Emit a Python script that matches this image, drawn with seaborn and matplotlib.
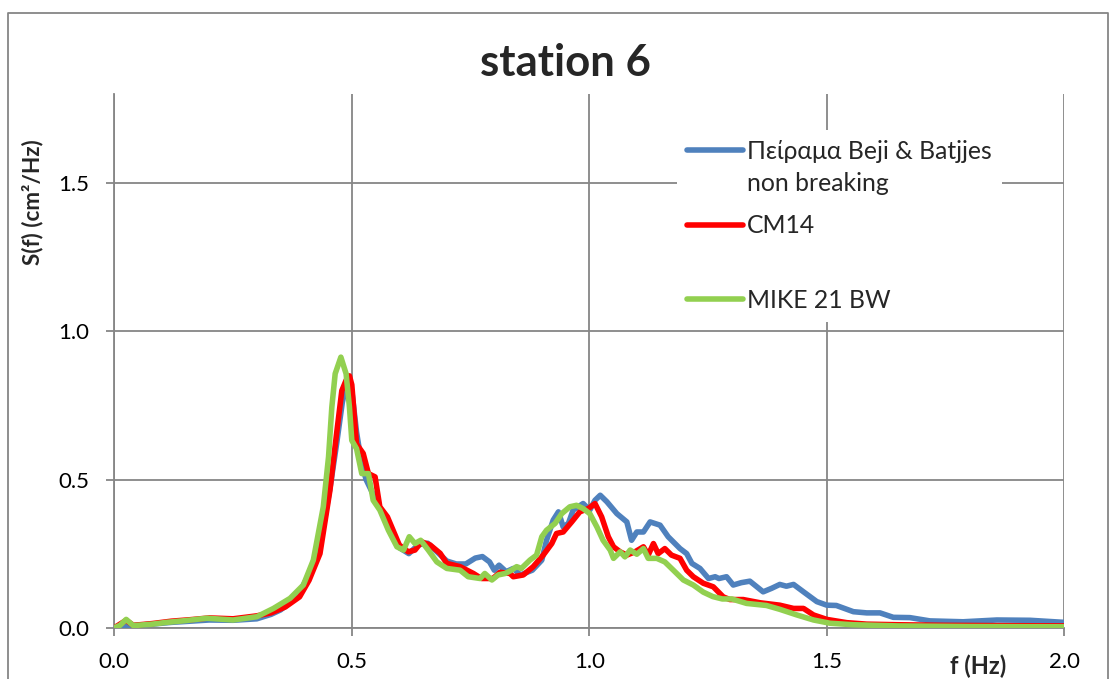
import numpy as np
import pandas as pd
import matplotlib
matplotlib.use("Agg")
import matplotlib.pyplot as plt
from matplotlib.lines import Line2D
import seaborn as sns

# ---------------- data ----------------
series_names = ["Πείραμα Beji & Batjjes non breaking", "CM14", "MIKE 21 BW"]
legend_first_line = "Πείραμα Beji & Batjjes"
legend_second_line = "non breaking"

f_exp = [0.00, 0.02, 0.04, 0.08, 0.12, 0.16, 0.20, 0.25, 0.30, 0.33, 0.35, 0.37, 0.39, 0.41, 0.425,
         0.44, 0.455, 0.468, 0.48, 0.49, 0.50, 0.51, 0.52, 0.53, 0.545, 0.56, 0.575, 0.59, 0.60, 0.62,
         0.64, 0.66, 0.68, 0.70, 0.72, 0.74, 0.76, 0.775, 0.79, 0.80, 0.81, 0.825, 0.84, 0.855, 0.88,
         0.90, 0.91, 0.924, 0.935, 0.945, 0.956, 0.966, 0.987, 1.001, 1.012, 1.023, 1.037, 1.058, 1.079, 1.089,
         1.10, 1.114, 1.128, 1.149, 1.166, 1.191, 1.205, 1.216, 1.233, 1.251, 1.265, 1.273, 1.289, 1.303, 1.32,
         1.338, 1.366, 1.384, 1.401, 1.415, 1.43, 1.451, 1.479, 1.50, 1.52, 1.556, 1.584, 1.612, 1.64, 1.675,
         1.717, 1.787, 1.858, 1.928, 2.0]
s_exp = [0.0, 0.003, 0.007, 0.012, 0.018, 0.022, 0.026, 0.025, 0.03, 0.045, 0.06, 0.085, 0.12, 0.18, 0.25,
         0.34, 0.48, 0.62, 0.76, 0.83, 0.80, 0.66, 0.56, 0.50, 0.45, 0.40, 0.35, 0.30, 0.27, 0.25,
         0.28, 0.285, 0.255, 0.225, 0.215, 0.215, 0.235, 0.24, 0.222, 0.194, 0.211, 0.189, 0.20, 0.178, 0.194,
         0.228, 0.295, 0.363, 0.391, 0.34, 0.352, 0.397, 0.419, 0.397, 0.43, 0.447, 0.425, 0.385, 0.357, 0.295,
         0.323, 0.323, 0.357, 0.346, 0.307, 0.267, 0.25, 0.217, 0.2, 0.166, 0.172, 0.166, 0.172, 0.144, 0.152,
         0.157, 0.121, 0.133, 0.146, 0.14, 0.146, 0.121, 0.088, 0.076, 0.075, 0.054, 0.05, 0.05, 0.035, 0.034,
         0.023, 0.02, 0.026, 0.025, 0.018]

f_cm = [0.00, 0.025, 0.04, 0.08, 0.12, 0.16, 0.20, 0.25, 0.30, 0.33, 0.36, 0.39, 0.41, 0.433, 0.454,
        0.468, 0.479, 0.488, 0.495, 0.50, 0.505, 0.51, 0.524, 0.535, 0.549, 0.559, 0.575, 0.60, 0.619, 0.633,
        0.647, 0.665, 0.686, 0.70, 0.728, 0.756, 0.773, 0.797, 0.812, 0.833, 0.84, 0.861, 0.882, 0.903, 0.921,
        0.931, 0.945, 0.963, 0.98, 0.998, 1.012, 1.026, 1.04, 1.051, 1.065, 1.079, 1.096, 1.114, 1.124, 1.135,
        1.145, 1.159, 1.173, 1.191, 1.205, 1.219, 1.24, 1.261, 1.282, 1.296, 1.324, 1.36, 1.401, 1.43, 1.451,
        1.472, 1.50, 1.542, 1.584, 1.648, 1.75, 1.85, 2.0]
s_cm = [0.0, 0.025, 0.008, 0.014, 0.022, 0.027, 0.033, 0.03, 0.04, 0.05, 0.07, 0.104, 0.16, 0.25, 0.464,
        0.655, 0.80, 0.835, 0.85, 0.82, 0.72, 0.62, 0.588, 0.52, 0.509, 0.408, 0.374, 0.279, 0.256, 0.262,
        0.29, 0.279, 0.251, 0.217, 0.206, 0.183, 0.166, 0.166, 0.187, 0.183, 0.172, 0.178, 0.206, 0.245, 0.284,
        0.318, 0.323, 0.357, 0.391, 0.402, 0.419, 0.374, 0.307, 0.273, 0.256, 0.245, 0.256, 0.273, 0.245, 0.284,
        0.25, 0.267, 0.245, 0.234, 0.194, 0.172, 0.15, 0.138, 0.104, 0.095, 0.095, 0.084, 0.076, 0.065, 0.065,
        0.043, 0.028, 0.017, 0.012, 0.01, 0.008, 0.007, 0.006]

f_mk = [0.00, 0.012, 0.025, 0.04, 0.08, 0.11, 0.15, 0.195, 0.25, 0.30, 0.335, 0.37, 0.398, 0.419, 0.44,
        0.451, 0.458, 0.465, 0.477, 0.488, 0.495, 0.50, 0.51, 0.521, 0.535, 0.545, 0.559, 0.577, 0.595, 0.609,
        0.621, 0.633, 0.645, 0.661, 0.679, 0.70, 0.728, 0.745, 0.77, 0.78, 0.795, 0.808, 0.823, 0.836, 0.847,
        0.857, 0.875, 0.889, 0.90, 0.91, 0.928, 0.942, 0.959, 0.973, 0.987, 1.001, 1.016, 1.029, 1.044, 1.051,
        1.065, 1.075, 1.086, 1.10, 1.114, 1.124, 1.142, 1.159, 1.177, 1.198, 1.219, 1.24, 1.26, 1.28, 1.30,
        1.331, 1.373, 1.401, 1.437, 1.472, 1.507, 1.556, 1.65, 1.8, 2.0]
s_mk = [0.0, 0.008, 0.028, 0.007, 0.012, 0.018, 0.024, 0.032, 0.026, 0.037, 0.065, 0.099, 0.144, 0.228, 0.408,
        0.576, 0.745, 0.857, 0.913, 0.857, 0.745, 0.632, 0.604, 0.52, 0.52, 0.43, 0.397, 0.329, 0.273, 0.262,
        0.307, 0.284, 0.295, 0.262, 0.222, 0.20, 0.194, 0.172, 0.166, 0.183, 0.161, 0.178, 0.183, 0.194, 0.206,
        0.20, 0.228, 0.245, 0.307, 0.329, 0.352, 0.385, 0.408, 0.413, 0.402, 0.385, 0.34, 0.295, 0.262, 0.234,
        0.256, 0.239, 0.262, 0.248, 0.267, 0.234, 0.234, 0.222, 0.194, 0.161, 0.144, 0.12, 0.105, 0.097, 0.097,
        0.082, 0.075, 0.062, 0.043, 0.026, 0.015, 0.01, 0.006, 0.004, 0.003]

x_ticks = [0.0, 0.5, 1.0, 1.5, 2.0]
y_ticks = [0.0, 0.5, 1.0, 1.5]
colors = ["#4F81BD", "#FF0000", "#92D050"]

# ---------------- build long table ----------------
df = pd.concat([
    pd.DataFrame({"f": f_exp, "S": s_exp, "series": series_names[0]}),
    pd.DataFrame({"f": f_cm, "S": s_cm, "series": series_names[1]}),
    pd.DataFrame({"f": f_mk, "S": s_mk, "series": series_names[2]}),
], ignore_index=True)

sns.set_style("white")
plt.rcParams["font.family"] = ["Lato", "Noto Sans", "DejaVu Sans"]

GRID = "#868686"
W, H = 1115, 679
fig = plt.figure(figsize=(W / 100, H / 100), dpi=100)
ax_l, ax_r, ax_t, ax_b = 114.3, 1064.3, 94.3, 627.7
ax = fig.add_axes([ax_l / W, 1 - ax_b / H, (ax_r - ax_l) / W, (ax_b - ax_t) / H])

sns.lineplot(data=df, x="f", y="S", hue="series", hue_order=series_names,
             palette=colors, linewidth=4.0, sort=False, ax=ax, zorder=3)

ax.set_xlim(0, 2.0)
ax.set_ylim(0, 1.8)
ax.set_xticks(x_ticks)
ax.set_yticks(y_ticks)
ax.set_xticklabels([f"{v:.1f}" for v in x_ticks])
ax.set_yticklabels([f"{v:.1f}" for v in y_ticks])
ax.grid(True, color=GRID, linewidth=1.3, zorder=0)
ax.set_axisbelow(True)
for side in ["top", "right"]:
    ax.spines[side].set_visible(False)
for side in ["left", "bottom"]:
    ax.spines[side].set_color(GRID)
    ax.spines[side].set_linewidth(1.3)
ax.tick_params(axis="both", which="major", direction="out", length=5.8, width=1.3,
               color=GRID, labelsize=16, labelcolor="black")
ax.tick_params(axis="x", pad=12)
ax.tick_params(axis="y", pad=12)
ax.tick_params(left=True, bottom=True)

ax.set_xlabel("f (Hz)", fontsize=17, fontweight="bold", va="center")
ax.xaxis.set_label_coords((978 - ax_l) / (ax_r - ax_l), -(666 - ax_b) / (ax_b - ax_t))
ax.set_ylabel("S(f) (cm²/Hz)", fontsize=16.2, fontweight="bold", va="center")
ax.yaxis.set_label_coords((33 - ax_l) / (ax_r - ax_l), 1 - (202 - ax_t) / (ax_b - ax_t))

fig.text(565.5 / W, 1 - 63 / H, "station 6", fontsize=31.5, fontweight="bold",
         ha="center", va="center")

handles, _ = ax.get_legend_handles_labels()
leg_labels = [legend_first_line, series_names[1], series_names[2]]
LFS = 17.8
bp = 0.4
pad_px = bp * LFS * 100 / 72
leg = ax.legend(handles, leg_labels, loc="upper left",
                bbox_to_anchor=((687 - pad_px - ax_l) / (ax_r - ax_l),
                                1 - (140 - pad_px - ax_t) / (ax_b - ax_t)),
                borderaxespad=0, frameon=True, facecolor="white", edgecolor="none", framealpha=1,
                fontsize=LFS, handlelength=2.25, handletextpad=0.18, labelspacing=2.08,
                borderpad=bp, fancybox=False)
for ln in leg.get_lines():
    ln.set_linewidth(4.0)
leg.set_zorder(5)

# second line of the wrapped first legend label
ax.annotate(legend_second_line, xy=(0, 0.5), xycoords=leg.get_texts()[0],
            xytext=(0, -32), textcoords="offset pixels", ha="left", va="center",
            fontsize=LFS, zorder=6)

# outer chart border (Excel style)
bx0, by0, bx1 = 8 / W, 1 - 13 / H, 1108 / W
fig.add_artist(Line2D([bx0, bx0, bx1, bx1], [0, by0, by0, 0], transform=fig.transFigure,
                      color=GRID, linewidth=1.3))

fig.savefig("out.png", dpi=100)
